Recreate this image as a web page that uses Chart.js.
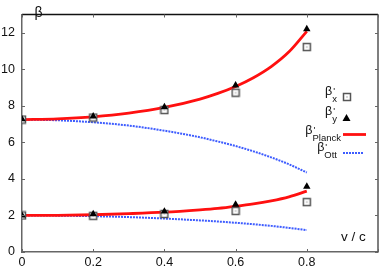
<!DOCTYPE html>
<html>
<head>
<meta charset="utf-8">
<script src="https://cdn.jsdelivr.net/npm/chart.js@4.4.1/dist/chart.umd.min.js"></script>
<style>
	html, body { margin: 0; padding: 0; background: #fff; }
	#wrap { width: 383px; height: 272px; }
	canvas { display: block; }
</style>
</head>
<body>
<div id="wrap"><canvas id="beta-chart" width="383" height="272"></canvas></div>
<script>
// curves
var vCurve = [0, 0.1, 0.2, 0.3, 0.4, 0.5, 0.55, 0.6, 0.65, 0.7, 0.75, 0.8];
var planckHigh = [7.25, 7.29, 7.40, 7.60, 7.91, 8.37, 8.68, 9.06, 9.54, 10.15, 10.96, 12.08];
var planckLow = [2.00, 2.01, 2.04, 2.10, 2.18, 2.31, 2.39, 2.50, 2.63, 2.80, 3.02, 3.33];
var ottHigh = [7.25, 7.21, 7.10, 6.92, 6.64, 6.28, 6.05, 5.80, 5.51, 5.18, 4.80, 4.35];
var ottLow = [2.00, 1.99, 1.96, 1.91, 1.83, 1.73, 1.67, 1.60, 1.52, 1.43, 1.32, 1.20];

// measured points
var vPoints = [0, 0.2, 0.4, 0.6, 0.8];
var betaXHigh = [7.25, 7.36, 7.77, 8.72, 11.22];
var betaXLow = [2.00, 1.98, 2.08, 2.25, 2.73];
var betaYHigh = [7.27, 7.43, 7.93, 9.12, 12.20];
var betaYLow = [2.00, 2.08, 2.22, 2.60, 3.58];

var xTicks = [0, 0.2, 0.4, 0.6, 0.8];
var yTicks = [0, 2, 4, 6, 8, 10, 12];
var legendSubs = ['x', 'y', 'Planck', 'Ott'];

var FONT = '"Liberation Sans", Arial, sans-serif';
var RED = '#ff1010';
var BLUE = '#3d5cff';

function pairs(xs, ys) {
	return xs.map(function (x, i) { return { x: x, y: ys[i] }; });
}

// gnuplot style "box with a dot" marker
function boxDot() {
	var c = document.createElement('canvas');
	c.width = 10; c.height = 10;
	var g = c.getContext('2d');
	g.fillStyle = '#fff';
	g.fillRect(1, 1, 8, 8);
	g.strokeStyle = '#555';
	g.lineWidth = 1.5;
	g.strokeRect(1.5, 1.5, 7, 7);
	g.fillStyle = '#666';
	g.fillRect(4.5, 4.5, 1, 1);
	return c;
}
var boxMarker = boxDot();

function curve(data, color, dashed) {
	return {
		data: data,
		showLine: true,
		borderColor: color,
		borderWidth: dashed ? 2 : 2.8,
		borderDash: dashed ? [2, 1] : [],
		pointRadius: 0,
		tension: 0.4,
		cubicInterpolationMode: 'monotone',
		fill: false,
		order: 2
	};
}

function points(data, isBox) {
	return {
		data: data,
		showLine: false,
		pointStyle: isBox ? boxMarker : 'triangle',
		pointRadius: isBox ? 5 : 4.3,
		backgroundColor: '#000',
		borderWidth: 0,
		order: isBox ? 1 : 0
	};
}

function drawBeta(ctx, sub, right, base) {
	var big = '12.5px ' + FONT, small = '9.5px ' + FONT;
	ctx.font = big;
	var wb = ctx.measureText('β').width;
	ctx.font = small;
	var ws = Math.max(ctx.measureText(sub).width, ctx.measureText("'").width + 1);
	var x0 = right - wb - ws;
	ctx.font = big;
	ctx.fillText('β', x0, base);
	ctx.font = small;
	ctx.fillText("'", x0 + wb + 1, base - 1);
	ctx.fillText(sub, x0 + wb, base + 7);
}

var decor = {
	id: 'decor',
	afterDraw: function (chart) {
		var ctx = chart.ctx, a = chart.chartArea;
		var xs = chart.scales.x, ys = chart.scales.y;
		ctx.save();

		// top and right frame
		ctx.lineWidth = 1.5;
		ctx.strokeStyle = '#111';
		ctx.beginPath();
		ctx.moveTo(a.left, a.top); ctx.lineTo(a.right, a.top);
		ctx.stroke();
		ctx.strokeStyle = '#555';
		ctx.beginPath();
		ctx.moveTo(a.right, a.top); ctx.lineTo(a.right, a.bottom);
		ctx.stroke();

		// inward tick marks on all sides
		ctx.lineWidth = 1;
		ctx.strokeStyle = '#666';
		ctx.beginPath();
		xTicks.concat([1]).forEach(function (v) {
			var px = Math.round(xs.getPixelForValue(v)) + 0.5;
			ctx.moveTo(px, a.bottom); ctx.lineTo(px, a.bottom - 3);
			ctx.moveTo(px, a.top); ctx.lineTo(px, a.top + 3);
		});
		yTicks.forEach(function (v) {
			var py = Math.round(ys.getPixelForValue(v)) + 0.5;
			ctx.moveTo(a.left, py); ctx.lineTo(a.left + 3, py);
			ctx.moveTo(a.right, py); ctx.lineTo(a.right - 3, py);
		});
		ctx.stroke();

		// axis captions
		ctx.fillStyle = '#111';
		ctx.textAlign = 'left';
		ctx.textBaseline = 'alphabetic';
		ctx.font = '14px ' + FONT;
		ctx.fillText('β', 34.5, 17);
		ctx.font = '13.5px ' + FONT;
		ctx.fillText('v / c', 341, 240.5);

		// key
		var bases = [95, 115, 133.5, 151];
		legendSubs.forEach(function (s, i) {
			drawBeta(ctx, s, i == 2 ? 341 : 337, bases[i]);
		});
		ctx.drawImage(boxMarker, 342, 92);
		ctx.beginPath();
		ctx.moveTo(342.5, 121); ctx.lineTo(350.5, 121); ctx.lineTo(346.5, 114);
		ctx.closePath();
		ctx.fillStyle = '#000';
		ctx.fill();
		ctx.lineWidth = 2.8;
		ctx.strokeStyle = RED;
		ctx.beginPath();
		ctx.moveTo(343, 134.5); ctx.lineTo(366, 134.5);
		ctx.stroke();
		ctx.lineWidth = 2;
		ctx.strokeStyle = BLUE;
		ctx.setLineDash([2, 1]);
		ctx.beginPath();
		ctx.moveTo(343, 153); ctx.lineTo(364, 153);
		ctx.stroke();
		ctx.restore();
	}
};

new Chart('beta-chart', {
	type: 'scatter',
	data: {
		datasets: [
			curve(pairs(vCurve, planckHigh), RED, false),
			curve(pairs(vCurve, planckLow), RED, false),
			curve(pairs(vCurve, ottHigh), BLUE, true),
			curve(pairs(vCurve, ottLow), BLUE, true),
			points(pairs(vPoints, betaXHigh), true),
			points(pairs(vPoints, betaXLow), true),
			points(pairs(vPoints, betaYHigh), false),
			points(pairs(vPoints, betaYLow), false)
		]
	},
	options: {
		responsive: false,
		animation: false,
		devicePixelRatio: 1,
		layout: { padding: { top: 1, right: 4, left: 0, bottom: 0 } },
		plugins: {
			legend: { display: false },
			tooltip: { enabled: false }
		},
		scales: {
			x: {
				type: 'linear',
				min: 0,
				max: 1,
				afterBuildTicks: function (scale) {
					scale.ticks = xTicks.map(function (v) { return { value: v }; });
				},
				afterFit: function (scale) { scale.height = 20; },
				ticks: {
					color: '#111',
					padding: 3,
					maxRotation: 0,
					autoSkip: false,
					font: { family: FONT, size: 12.5 }
				},
				grid: { display: false, drawTicks: false },
				border: { display: true, color: '#666', width: 1.5 }
			},
			y: {
				type: 'linear',
				min: 0,
				max: 13,
				afterBuildTicks: function (scale) {
					scale.ticks = yTicks.map(function (v) { return { value: v }; });
				},
				afterFit: function (scale) { scale.width = 22; },
				ticks: {
					color: '#111',
					padding: 7,
					autoSkip: false,
					font: { family: FONT, size: 12.5 }
				},
				grid: { display: false, drawTicks: false },
				border: { display: true, color: '#666', width: 1.5 }
			}
		}
	},
	plugins: [decor]
});
</script>
</body>
</html>
